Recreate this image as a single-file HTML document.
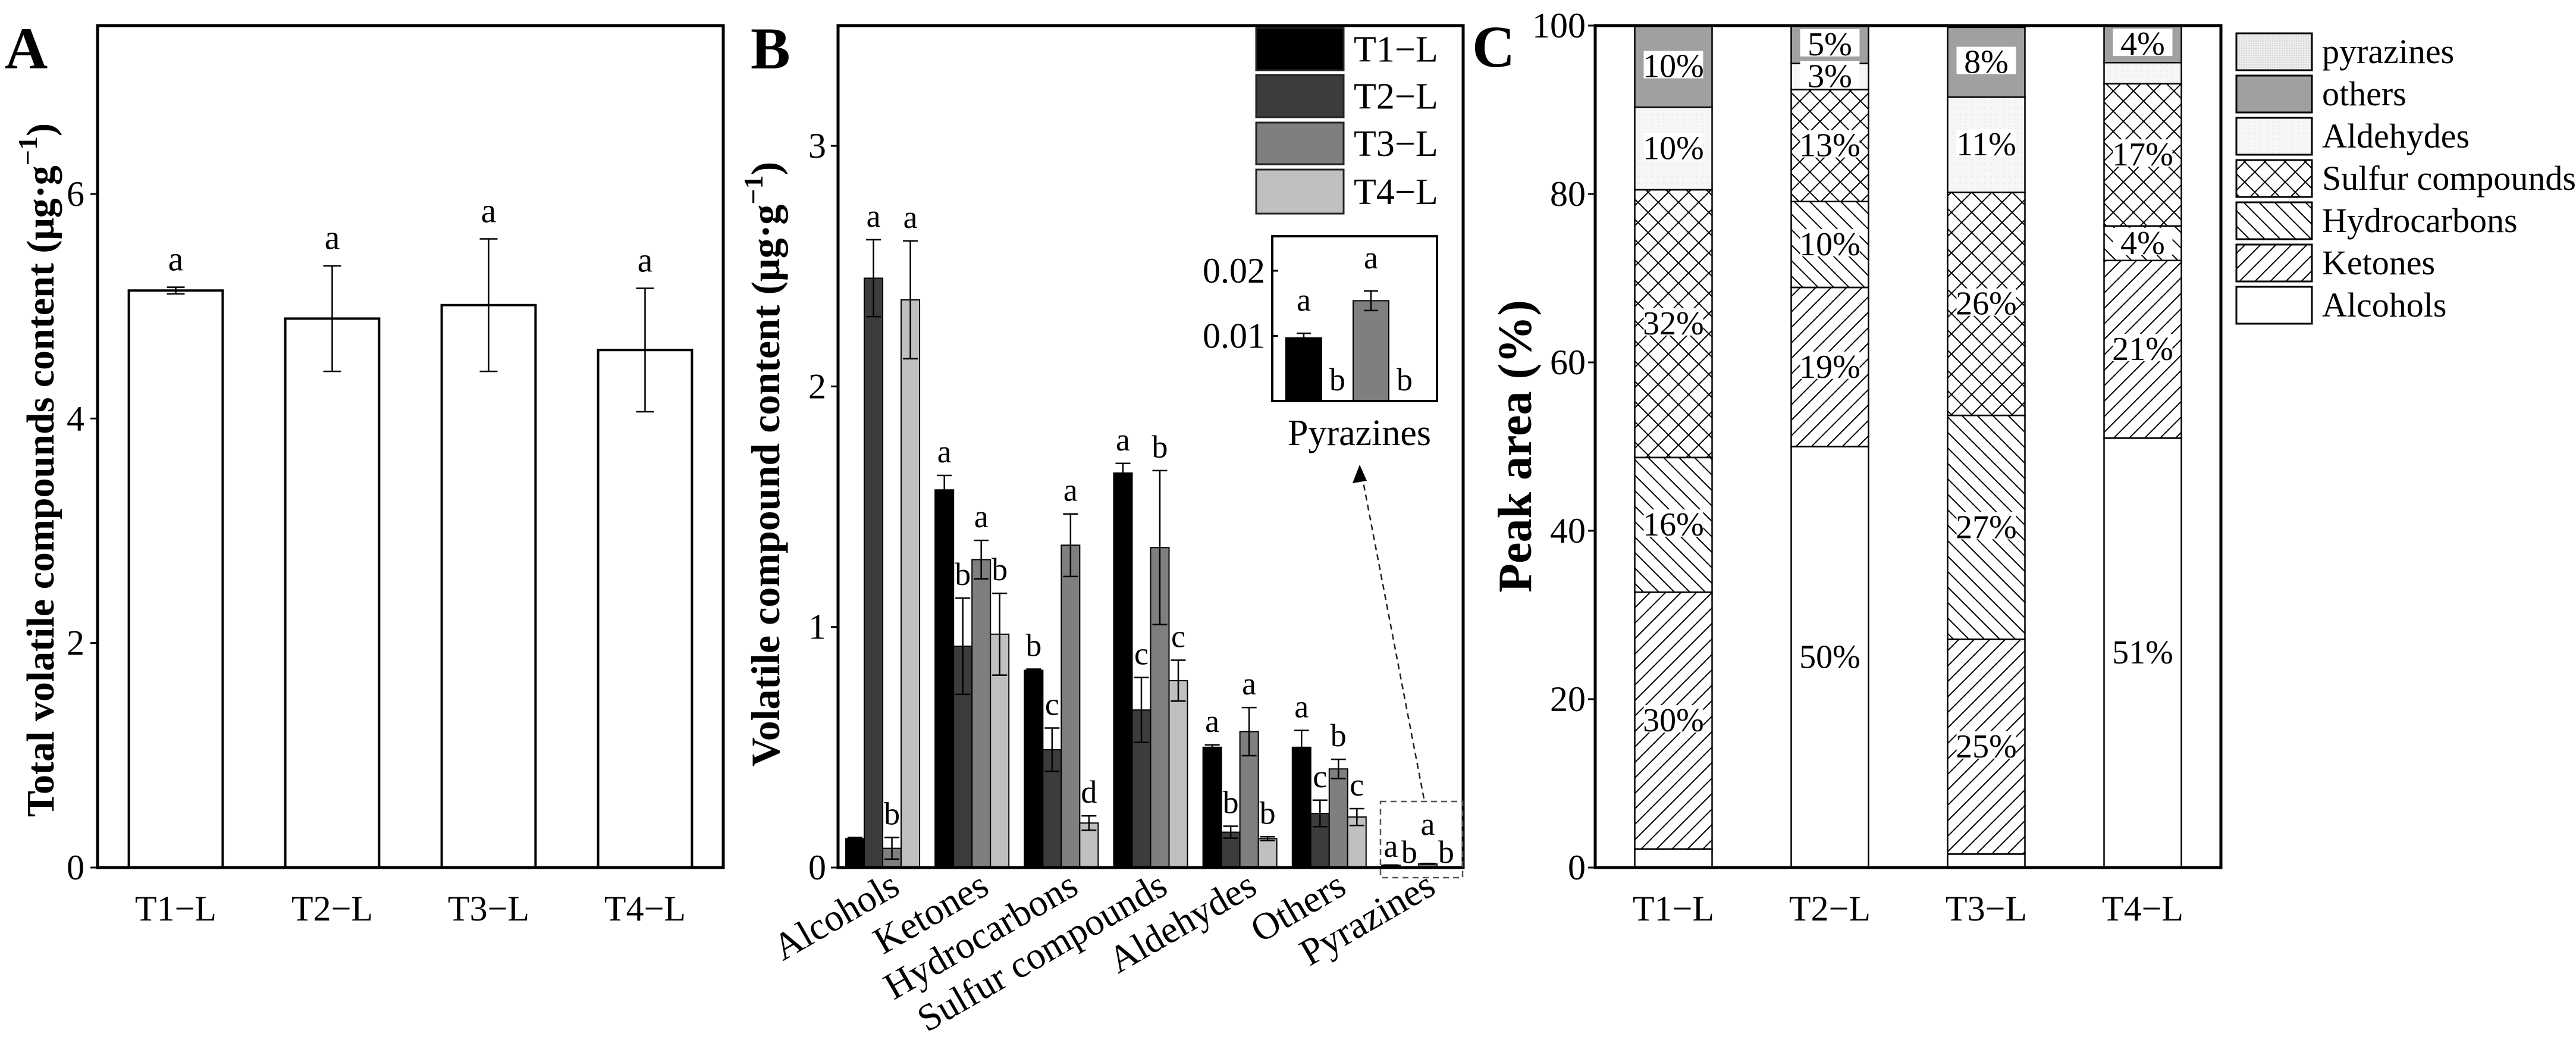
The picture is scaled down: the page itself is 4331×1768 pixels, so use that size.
<!DOCTYPE html>
<html><head><meta charset="utf-8">
<style>
html,body{margin:0;padding:0;background:#fff;}
svg{display:block;font-family:"Liberation Serif",serif;}
</style></head>
<body>
<svg id="fig" width="4331" height="1768" viewBox="0 0 4331 1768" xmlns="http://www.w3.org/2000/svg" font-family="Liberation Serif, serif">
<defs>
<pattern id="pKet" patternUnits="userSpaceOnUse" width="26" height="26"><path d="M-2,28 L28,-2 M-15,15 L15,-15 M11,41 L41,11" stroke="#000" stroke-width="2"/></pattern>
<pattern id="pHyd" patternUnits="userSpaceOnUse" width="26" height="26"><path d="M-2,-2 L28,28 M11,-15 L41,15 M-15,11 L15,41" stroke="#000" stroke-width="2"/></pattern>
<pattern id="pSul" patternUnits="userSpaceOnUse" width="34" height="34"><path d="M0,0 L34,34 M34,0 L0,34" stroke="#000" stroke-width="2"/></pattern>
<pattern id="pAld" patternUnits="userSpaceOnUse" width="4" height="4"><rect width="4" height="4" fill="#f7f7f7"/><rect width="1" height="1" fill="#e0e0e0"/></pattern>
<pattern id="pPyr" patternUnits="userSpaceOnUse" width="4" height="4"><rect width="4" height="4" fill="#ececec"/><rect width="2" height="2" fill="#d6d6d6"/></pattern>
</defs>
<g id="gA"></g>
<g id="gB"></g>
<g id="gC"></g>
</svg>
<script>
// ---- Panel A data ----
const aCats = ["T1−L","T2−L","T3−L","T4−L"];
const aVals = [5.14, 4.89, 5.01, 4.61];
const aErrs = [0.03, 0.47, 0.59, 0.55];
const aLetters = ["a","a","a","a"];
const aTicks = [0,2,4,6];
// ---- Panel B data ----
const bCats = ["Alcohols","Ketones","Hydrocarbons","Sulfur compounds","Aldehydes","Others","Pyrazines"];
const bSeries = ["T1−L","T2−L","T3−L","T4−L"];
const bT1 = [0.12, 1.57, 0.82, 1.64, 0.50, 0.50, 0.0097];
const bT2 = [2.45, 0.92, 0.49, 0.655, 0.147, 0.225, 0];
const bT3 = [0.08, 1.28, 1.34, 1.33, 0.565, 0.41, 0.0154];
const bT4 = [2.36, 0.97, 0.185, 0.777, 0.12, 0.21, 0];
const bE1 = [0.005, 0.06, 0.005, 0.04, 0.01, 0.07, 0.0007];
const bE2 = [0.16, 0.20, 0.09, 0.135, 0.025, 0.055, 0];
const bE3 = [0.045, 0.08, 0.13, 0.32, 0.10, 0.04, 0.0015];
const bE4 = [0.245, 0.17, 0.03, 0.085, 0.008, 0.035, 0];
const bL1 = ["", "a","b","a","a","a","a"];
const bL2 = ["a","b","c","c","b","c","b"];
const bL3 = ["b","a","a","b","a","b","a"];
const bL4 = ["a","b","d","c","b","c","b"];
const bTicks = [0,1,2,3];
const inVals = [0.0097, 0, 0.0154, 0];
const inErrs = [0.0007, 0, 0.0015, 0];
const inLetters = ["a","b","a","b"];
const inTicks = [0.01, 0.02];
// ---- Panel C data ----
const cCats = ["T1−L","T2−L","T3−L","T4−L"];
const cGroups = ["Alcohols","Ketones","Hydrocarbons","Sulfur compounds","Aldehydes","others","pyrazines"];
const cAlcohols = [2.2, 50.0, 1.6, 51.0];
const cKetones = [30.5, 18.9, 25.5, 21.1];
const cHydro = [16.0, 10.2, 26.6, 4.1];
const cSulfur = [31.8, 13.3, 26.5, 16.9];
const cAldehydes = [9.8, 3.1, 11.3, 2.5];
const cOthers = [9.7, 4.5, 8.3, 4.4];
const cPyrazines = [0, 0, 0.2, 0];
const cLab = [
  ["","30%","16%","32%","10%","10%",""],
  ["50%","19%","10%","13%","3%","5%",""],
  ["","25%","27%","26%","11%","8%",""],
  ["51%","21%","4%","17%","","4%",""]
];
const cTicks = [0,20,40,60,80,100];

const NS="http://www.w3.org/2000/svg";
function mk(parent, tag, attrs, text){
  const e=document.createElementNS(NS,tag);
  for(const k in attrs) e.setAttribute(k,attrs[k]);
  if(text!==undefined) e.textContent=text;
  parent.appendChild(e); return e;
}
const FS=60;

// ================= Panel A =================
(function(){
  const g=document.getElementById('gA');
  const L=164,R=1216,T=43,B=1458,ymax=7.5;
  const y=v=>B-(v/ymax)*(B-T);
  const bw=(R-L)/aCats.length;
  const x=i=>L+bw*(i+0.5);
  let t=mk(g,'text',{x:8,y:115,'font-size':100,'font-weight':'bold'},'A');
   
  aVals.forEach((v,i)=>{
    const w=bw*0.6;
    let r=mk(g,'rect',{x:x(i)-w/2,y:y(v),width:w,height:B-y(v),fill:'#fff',stroke:'#000','stroke-width':4});
     
    const e=aErrs[i];
    let eb=mk(g,'path',{d:`M${x(i)},${y(v+e)}V${y(v-e)}M${x(i)-15},${y(v+e)}H${x(i)+15}M${x(i)-15},${y(v-e)}H${x(i)+15}`,stroke:'#000','stroke-width':2.5,fill:'none'});
     
    let lt=mk(g,'text',{x:x(i),y:y(v+e)-28,'font-size':58,'text-anchor':'middle'},aLetters[i]);
     
    let xl=mk(g,'text',{x:x(i),y:1547,'font-size':FS,'text-anchor':'middle'},aCats[i]);
     
  });
  aTicks.forEach(v=>{
    mk(g,'line',{x1:L-12,x2:L,y1:y(v),y2:y(v),stroke:'#000','stroke-width':3});
    let tl=mk(g,'text',{x:L-22,y:y(v)+20,'font-size':FS,'text-anchor':'end'},v);
     
  });
  let ax=mk(g,'rect',{x:L,y:T,width:R-L,height:B-T,fill:'none',stroke:'#000','stroke-width':5});
   
  let yl=mk(g,'text',{transform:`translate(90,790) rotate(-90)`,'font-size':66,'font-weight':'bold','text-anchor':'middle'});
   
  yl.innerHTML='Total volatile compounds content (μg·g<tspan dy="-28" font-size="46">−1</tspan><tspan dy="28">)</tspan>';
})();

// ================= Panel B =================
(function(){
  const g=document.getElementById('gB');
  const L=1409,R=2460,T=43,B=1458,ymax=3.5;
  const y=v=>B-(v/ymax)*(B-T);
  const bw=(R-L)/bCats.length;
  const cx=i=>L+bw*(i+0.5);
  const colors=['#000','#3c3c3c','#7f7f7f','#c0c0c0'];
  const vals=[bT1,bT2,bT3,bT4], errs=[bE1,bE2,bE3,bE4], lets=[bL1,bL2,bL3,bL4];
  let t=mk(g,'text',{x:1262,y:115,'font-size':100,'font-weight':'bold'},'B');
   
  const w=31;
  bCats.forEach((c,i)=>{
    for(let s=0;s<4;s++){
      const v=vals[s][i], e=errs[s][i];
      const xx=cx(i)+(s-2)*w;
      let r=mk(g,'rect',{x:xx,y:y(v),width:w,height:B-y(v),fill:colors[s],stroke:'#000','stroke-width':2});
       
      if(e>0){
        const m=xx+w/2;
        let eb=mk(g,'path',{d:`M${m},${y(v+e)}V${y(v-e)}M${xx+3},${y(v+e)}H${xx+w-3}M${xx+3},${y(v-e)}H${xx+w-3}`,stroke:'#000','stroke-width':2.5,fill:'none'});
         
      }
      if(lets[s][i]){
        let ly = (i===bCats.length-1) ? (s===2? B-55 : (s===0? B-18 : B-8)) : y(v+e)-22;
        let lt=mk(g,'text',{x:xx+w/2,y:ly,'font-size':54,'text-anchor':'middle'},lets[s][i]);
         
      }
    }
    let xl=mk(g,'text',{transform:`translate(${cx(i)+32},${1500}) rotate(-30)`,'font-size':64,'text-anchor':'end'},c);
     
  });
  bTicks.forEach(v=>{
    mk(g,'line',{x1:L-12,x2:L,y1:y(v),y2:y(v),stroke:'#000','stroke-width':3});
    let tl=mk(g,'text',{x:L-20,y:y(v)+20,'font-size':FS,'text-anchor':'end'},v);
     
  });
  let ax=mk(g,'rect',{x:L,y:T,width:R-L,height:B-T,fill:'none',stroke:'#000','stroke-width':5});
   
  let yl=mk(g,'text',{transform:`translate(1310,780) rotate(-90)`,'font-size':68,'font-weight':'bold','text-anchor':'middle'});
   
  yl.innerHTML='Volatile compound content (μg·g<tspan dy="-28" font-size="46">−1</tspan><tspan dy="28">)</tspan>';
  // legend
  const rows=[[47,118],[126,197],[206,276],[285,359]];
  bSeries.forEach((s,k)=>{
    let lg=mk(g,'g',{});
     
    mk(lg,'rect',{x:2112,y:rows[k][0],width:147,height:rows[k][1]-rows[k][0],fill:colors[k],stroke:'#222','stroke-width':3});
    mk(lg,'text',{x:2276,y:(rows[k][0]+rows[k][1])/2+21,'font-size':62},s);
  });
  // dashed box + arrow
  let db=mk(g,'rect',{x:2321,y:1347,width:138,height:128,fill:'none',stroke:'#555','stroke-width':2.5,'stroke-dasharray':'10,7'});
   
  let ar=mk(g,'line',{x1:2394,y1:1342,x2:2290,y2:800,stroke:'#222','stroke-width':2.5,'stroke-dasharray':'10,7'});
   
  mk(g,'path',{d:'M2286,781 L2274,812 L2298,808 Z',fill:'#000'});
  // inset
  const iL=2139,iR=2416,iT=397,iB=674,imax=0.0253;
  const iy=v=>iB-(v/imax)*(iB-iT);
  const slot=56.5, ix=k=>2192+k*slot, iw=60;
  const iCols=['#000','#3c3c3c','#7f7f7f','#c0c0c0'];
  inVals.forEach((v,k)=>{
    if(v>0){
      let r=mk(g,'rect',{x:ix(k)-iw/2,y:iy(v),width:iw,height:iB-iy(v),fill:iCols[k],stroke:'#000','stroke-width':2});
       
      const e=inErrs[k];
      mk(g,'path',{d:`M${ix(k)},${iy(v+e)}V${iy(v-e)}M${ix(k)-12},${iy(v+e)}H${ix(k)+12}M${ix(k)-12},${iy(v-e)}H${ix(k)+12}`,stroke:'#000','stroke-width':2.5});
    }
    let ly = v>0 ? iy(v+inErrs[k])-38 : iB-18;
    let lt=mk(g,'text',{x:ix(k),y:ly,'font-size':54,'text-anchor':'middle'},inLetters[k]);
     
  });
  inTicks.forEach(v=>{
    mk(g,'line',{x1:iL,x2:iL+10,y1:iy(v),y2:iy(v),stroke:'#000','stroke-width':3});
    let tl=mk(g,'text',{x:iL-12,y:iy(v)+20,'font-size':FS,'text-anchor':'end'},v);
     
  });
  let ib=mk(g,'rect',{x:iL,y:iT,width:iR-iL,height:iB-iT,fill:'none',stroke:'#000','stroke-width':4});
   
  let il=mk(g,'text',{x:(iL+iR)/2+8,y:748,'font-size':62,'text-anchor':'middle'},'Pyrazines');
   
})();

// ================= Panel C =================
(function(){
  const g=document.getElementById('gC');
  const L=2682,R=3734,T=43,B=1458;
  const y=v=>B-(v/100)*(B-T);
  const bw=(R-L)/cCats.length;
  const cx=i=>L+bw*(i+0.5);
  const w=130;
  const fills=['#fff','url(#pKet)','url(#pHyd)','url(#pSul)','url(#pAld)','#a0a0a0','url(#pPyr)'];
  const segs=[cAlcohols,cKetones,cHydro,cSulfur,cAldehydes,cOthers,cPyrazines];
  let t=mk(g,'text',{x:2475,y:112,'font-size':100,'font-weight':'bold'},'C');
   
  cCats.forEach((c,i)=>{
    let acc=0;
    const labs=[];
    segs.forEach((arr,k)=>{
      const v=arr[i]; if(v<=0) return;
      let r=mk(g,'rect',{x:cx(i)-w/2,y:y(acc+v),width:w,height:y(acc)-y(acc+v),fill:fills[k],stroke:'#000','stroke-width':2.5});
       
      if(cLab[i][k]) labs.push([cLab[i][k], y(acc+v/2)]);
      acc+=v;
    });
    labs.forEach(([s,yy])=>{
      mk(g,'rect',{x:cx(i)-50,y:yy-26,width:100,height:46,fill:'#fff'});
      let lt=mk(g,'text',{x:cx(i),y:yy+18,'font-size':56,'text-anchor':'middle'},s);
       
    });
    let xl=mk(g,'text',{x:cx(i),y:1547,'font-size':FS,'text-anchor':'middle'},c);
     
  });
  cTicks.forEach(v=>{
    mk(g,'line',{x1:L-12,x2:L,y1:y(v),y2:y(v),stroke:'#000','stroke-width':3});
    let tl=mk(g,'text',{x:L-16,y:y(v)+20,'font-size':FS,'text-anchor':'end'},v);
     
  });
  let ax=mk(g,'rect',{x:L,y:T,width:R-L,height:B-T,fill:'none',stroke:'#000','stroke-width':5});
   
  let yl=mk(g,'text',{transform:`translate(2574,750) rotate(-90)`,'font-size':80,'font-weight':'bold','text-anchor':'middle'},'Peak area (%)');
   
  const legOrder=[6,5,4,3,2,1,0];
  legOrder.forEach((k,row)=>{
    const y0=56+row*71;
    let lg=mk(g,'g',{});
     
    mk(lg,'rect',{x:3760,y:y0,width:127,height:62,fill:fills[k],stroke:'#000','stroke-width':3});
    mk(lg,'text',{x:3904,y:y0+50,'font-size':58},cGroups[k]);
  });
})();
</script>
</body></html>
